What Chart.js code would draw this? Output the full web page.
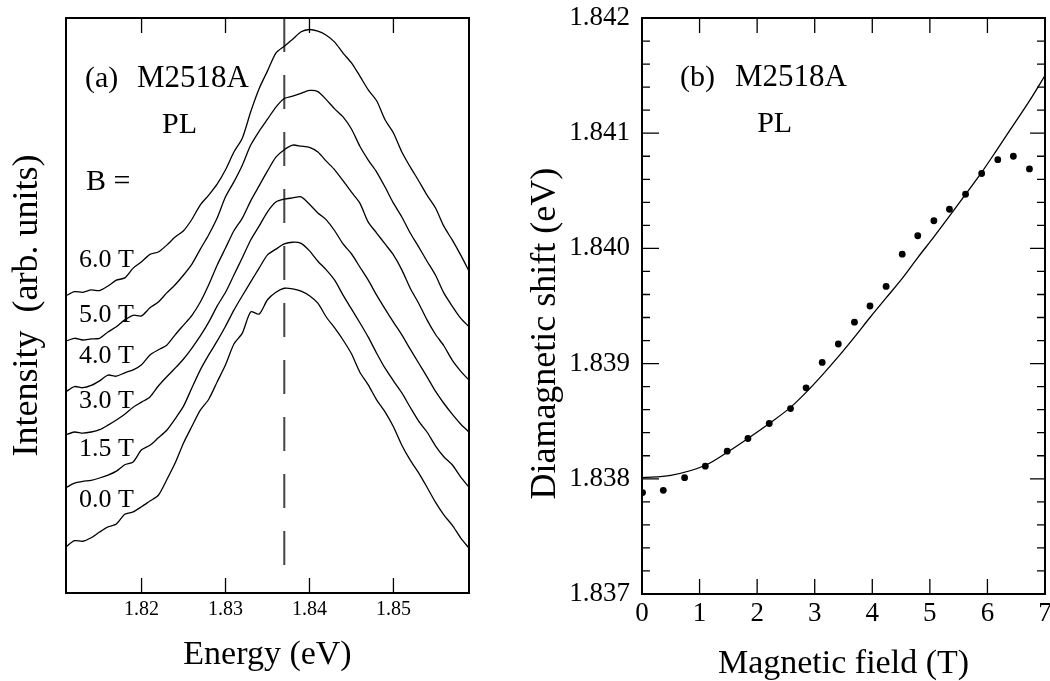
<!DOCTYPE html>
<html>
<head>
    <title>M2518A PL diamagnetic shift</title>
    <script src="https://cdn.jsdelivr.net/npm/chart.js"></script>
    <style>
        body { margin: 0; background: #fff; }
        .panel { position: absolute; top: 0; }
        #spectra { left: 0; }
        #shift { left: 525px; }
    </style>
</head>
<body>
    <canvas id="spectra" class="panel" width="525" height="681"></canvas>
    <canvas id="shift" class="panel" width="525" height="681"></canvas>
    <script>
        const SERIF = "'Liberation Serif', 'Times New Roman', serif";

        // (a) PL spectra on a 1 meV grid, intensity in arb. units (offset per field)
        const energy = [1.811, 1.812, 1.813, 1.814, 1.815, 1.816, 1.817, 1.818, 1.819, 1.820,
                        1.821, 1.822, 1.823, 1.824, 1.825, 1.826, 1.827, 1.828, 1.829, 1.830,
                        1.831, 1.832, 1.833, 1.834, 1.835, 1.836, 1.837, 1.838, 1.839, 1.840,
                        1.841, 1.842, 1.843, 1.844, 1.845, 1.846, 1.847, 1.848, 1.849, 1.850,
                        1.851, 1.852, 1.853, 1.854, 1.855, 1.856, 1.857, 1.858, 1.859];
        const fieldLabels = ['0.0 T', '1.5 T', '3.0 T', '4.0 T', '5.0 T', '6.0 T'];
        const pl00 = [8.0, 9.1, 9.0, 9.6, 10.6, 11.5, 12.0, 13.7, 14.1, 15.0,
                      16.0, 17.0, 19.7, 22.6, 26.1, 29.0, 31.8, 33.7, 36.7, 39.7,
                      43.3, 45.2, 48.9, 48.5, 51.0, 52.3, 53.0, 52.9, 52.5, 51.7,
                      50.4, 48.0, 46.1, 44.0, 41.6, 38.4, 36.2, 33.6, 31.5, 28.9,
                      25.7, 23.1, 20.9, 18.4, 15.8, 13.6, 11.8, 9.6, 7.8];
        const pl15 = [18.3, 19.1, 19.4, 19.6, 20.0, 20.5, 21.2, 22.3, 22.8, 24.9,
                      25.7, 27.0, 28.3, 30.3, 32.5, 35.7, 38.8, 41.4, 43.8, 46.4,
                      49.2, 51.7, 54.1, 56.5, 58.8, 59.8, 60.7, 61.0, 60.8, 59.5,
                      57.7, 56.2, 54.4, 51.8, 49.4, 47.0, 44.5, 41.7, 39.1, 36.9,
                      34.8, 32.3, 29.9, 28.0, 25.6, 23.7, 22.3, 20.2, 18.4];
        const pl30 = [27.5, 28.0, 27.8, 28.0, 28.4, 29.2, 30.1, 31.1, 32.3, 33.2,
                      34.1, 36.0, 37.6, 39.1, 40.7, 42.6, 44.7, 47.1, 49.9, 52.3,
                      55.3, 58.3, 61.4, 63.8, 66.3, 68.0, 68.5, 68.7, 68.9, 67.6,
                      66.1, 64.9, 63.0, 60.7, 59.0, 56.7, 54.4, 51.8, 49.4, 47.1,
                      44.9, 42.4, 40.0, 37.6, 35.1, 33.0, 31.1, 29.4, 28.0];
        const pl40 = [35.0, 35.9, 35.7, 36.1, 36.9, 37.9, 37.7, 38.3, 38.8, 39.7,
                      41.4, 42.3, 43.1, 44.9, 46.6, 48.3, 50.6, 53.6, 57.0, 60.0,
                      63.0, 65.2, 68.2, 70.8, 73.4, 75.8, 77.1, 77.9, 77.7, 77.5,
                      76.7, 75.1, 73.6, 71.7, 69.7, 67.8, 64.5, 62.6, 60.7, 58.8,
                      56.2, 53.0, 50.4, 47.5, 45.0, 43.0, 40.5, 38.6, 37.0];
        const pl50 = [43.8, 44.3, 44.0, 44.2, 44.3, 45.4, 46.3, 47.5, 48.3, 48.2,
                      49.6, 50.6, 52.2, 53.6, 55.3, 57.2, 59.8, 62.3, 65.2, 68.9,
                      71.5, 74.4, 77.9, 80.3, 82.4, 84.5, 86.0, 86.4, 86.9, 87.4,
                      87.2, 85.8, 84.2, 82.8, 80.7, 77.7, 75.3, 73.2, 70.6, 67.8,
                      65.4, 62.6, 60.2, 57.7, 55.3, 52.2, 49.9, 47.8, 46.3];
        const pl60 = [51.7, 52.4, 52.3, 52.7, 52.6, 53.4, 54.4, 54.8, 56.5, 57.6,
                      58.9, 59.3, 60.5, 61.9, 63.0, 65.0, 67.5, 69.2, 71.1, 73.6,
                      76.7, 79.1, 83.7, 87.7, 90.8, 93.9, 95.1, 96.3, 97.6, 98.0,
                      97.7, 97.0, 95.8, 93.9, 92.2, 89.9, 87.5, 85.6, 82.3, 80.0,
                      76.7, 74.1, 71.7, 69.2, 67.0, 63.8, 61.4, 58.8, 56.0];
        const energyTicks = [1.82, 1.83, 1.84, 1.85];
        const zeroFieldPeak = 1.837;

        // (b) peak energy vs field, measured and fitted
        const fieldB = [0.01, 0.37, 0.74, 1.10, 1.48, 1.84, 2.21, 2.58, 2.85, 3.13, 3.41, 3.69,
                        3.96, 4.24, 4.52, 4.79, 5.07, 5.34, 5.62, 5.90, 6.18, 6.45, 6.73];
        const shiftMeasured = [1.83788, 1.83790, 1.83801, 1.83811, 1.83824, 1.83835, 1.83848, 1.83861,
                               1.83879, 1.83901, 1.83917, 1.83936, 1.83950, 1.83967, 1.83995, 1.84011,
                               1.84024, 1.84034, 1.84047, 1.84065, 1.84077, 1.84080, 1.84069];
        const fitB = [0, 0.50, 1.11, 1.48, 1.84, 2.21, 2.58, 2.85, 3.13, 3.41, 3.69, 3.96,
                      4.24, 4.52, 4.79, 5.07, 5.34, 5.62, 5.90, 6.17, 6.45, 6.73, 7.00];
        const shiftFit = [1.83801, 1.83803, 1.83812, 1.83823, 1.83835, 1.83848, 1.83862, 1.83875,
                          1.83890, 1.83906, 1.83923, 1.83940, 1.83957, 1.83974, 1.83992, 1.84010,
                          1.84028, 1.84047, 1.84066, 1.84086, 1.84107, 1.84128, 1.84150];
        const fieldTicks = [0, 1, 2, 3, 4, 5, 6, 7];
        const shiftTicks = [1.837, 1.838, 1.839, 1.840, 1.841, 1.842];

        Chart.defaults.font.family = SERIF;
        Chart.defaults.color = '#000';

        // box around the plot, inward tick marks and free text, all placed through the scales
        function framePlugin(cfg) {
            return {
                id: 'frame',
                afterDatasetsDraw(chart) {
                    const {ctx, chartArea: a, scales} = chart;
                    ctx.save();
                    ctx.strokeStyle = '#000';
                    ctx.lineWidth = 1.3;
                    ctx.beginPath();
                    (cfg.xTicks || []).forEach(v => {
                        const px = scales.x.getPixelForValue(v);
                        ctx.moveTo(px, a.top); ctx.lineTo(px, a.top + 15);
                        ctx.moveTo(px, a.bottom); ctx.lineTo(px, a.bottom - 15);
                    });
                    (cfg.yTicks || []).forEach(v => {
                        const py = scales.y.getPixelForValue(v);
                        ctx.moveTo(a.left, py); ctx.lineTo(a.left + 17, py);
                        ctx.moveTo(a.right, py); ctx.lineTo(a.right - 15, py);
                    });
                    if (cfg.yMinorStep) {
                        const ys = scales.y;
                        for (let v = ys.min; v < ys.max; v += cfg.yMinorStep) {
                            const py = ys.getPixelForValue(v);
                            ctx.moveTo(a.left, py); ctx.lineTo(a.left + 8, py);
                            ctx.moveTo(a.right, py); ctx.lineTo(a.right - 8, py);
                        }
                    }
                    ctx.stroke();
                    ctx.lineWidth = 2;
                    ctx.strokeRect(a.left, a.top, a.right - a.left, a.bottom - a.top);

                    ctx.fillStyle = '#000';
                    ctx.textBaseline = 'alphabetic';
                    (cfg.notes || []).forEach(n => {
                        ctx.font = n.size + 'px ' + SERIF;
                        const px = scales.x.getPixelForValue(n.x);
                        const py = scales.y.getPixelForValue(n.y);
                        if (n.vertical) {
                            ctx.save();
                            ctx.translate(px, py);
                            ctx.rotate(-Math.PI / 2);
                            ctx.textAlign = 'center';
                            ctx.textBaseline = 'middle';
                            ctx.fillText(n.text, 0, 0);
                            ctx.restore();
                        } else {
                            ctx.textAlign = 'left';
                            ctx.fillText(n.text, px, py);
                        }
                    });
                    ctx.restore();
                }
            };
        }

        const labelY = [15.0, 23.8, 32.2, 40.0, 47.1, 56.7];
        const spectraNotes = [
            {text: '(a)', x: 1.81326, y: 88.0, size: 30},
            {text: 'M2518A', x: 1.81946, y: 88.0, size: 31},
            {text: 'PL', x: 1.82243, y: 80.0, size: 30},
            {text: 'B =', x: 1.81338, y: 70.1, size: 30}
        ].concat(fieldLabels.map((t, i) => ({text: t, x: 1.81255, y: labelY[i], size: 26})));

        const spectra = [pl00, pl15, pl30, pl40, pl50, pl60];

        new Chart(document.getElementById('spectra'), {
            type: 'scatter',
            data: {
                datasets: spectra.map((vals, i) => ({
                    label: fieldLabels[i],
                    data: energy.map((e, j) => ({x: e, y: vals[j]})),
                    showLine: true,
                    borderColor: '#000',
                    borderWidth: 1.3,
                    pointRadius: 0,
                    tension: 0.25
                })).concat([{
                    label: 'zero-field peak',
                    data: [{x: zeroFieldPeak, y: 100}, {x: zeroFieldPeak, y: 4}],
                    showLine: true,
                    borderColor: '#444',
                    borderWidth: 2,
                    borderDash: [34, 23],
                    pointRadius: 0
                }])
            },
            options: {
                responsive: false,
                animation: false,
                devicePixelRatio: 1,
                layout: {padding: {top: 18, right: 56, bottom: 0, left: 0}},
                plugins: {legend: {display: false}, tooltip: {enabled: false}},
                scales: {
                    x: {
                        type: 'linear', min: 1.811, max: 1.859,
                        afterBuildTicks: s => { s.ticks = energyTicks.map(v => ({value: v})); },
                        afterFit: s => { s.height = 88; s.paddingLeft = 0; s.paddingRight = 0; },
                        grid: {display: false, drawTicks: false},
                        border: {display: false},
                        ticks: {padding: 4.5, font: {size: 20}, maxRotation: 0, callback: v => v.toFixed(2)},
                        title: {display: true, text: 'Energy (eV)', font: {size: 34}, padding: {top: 0, bottom: 5.6}}
                    },
                    y: {
                        min: 0, max: 100,
                        afterFit: s => { s.width = 66; s.paddingTop = 0; s.paddingBottom = 0; },
                        grid: {display: false, drawTicks: false},
                        border: {display: false},
                        ticks: {display: false},
                        title: {display: true, text: 'Intensity  (arb. units)', font: {size: 36}, padding: {top: 6.4, bottom: 0}}
                    }
                }
            },
            plugins: [framePlugin({xTicks: energyTicks, notes: spectraNotes})]
        });

        const shiftNotes = [
            {text: '(b)', x: 0.66, y: 1.84141, size: 30},
            {text: 'M2518A', x: 1.615, y: 1.84141, size: 31},
            {text: 'PL', x: 2.0, y: 1.84101, size: 30},
            {text: 'Diamagnetic shift (eV)', x: -1.67, y: 1.83926, size: 36, vertical: true}
        ];

        new Chart(document.getElementById('shift'), {
            type: 'scatter',
            data: {
                datasets: [{
                    label: 'measured',
                    data: fieldB.map((b, i) => ({x: b, y: shiftMeasured[i]})),
                    pointRadius: 3.4,
                    pointBackgroundColor: '#000',
                    pointBorderWidth: 0
                }, {
                    label: 'fit',
                    data: fitB.map((b, i) => ({x: b, y: shiftFit[i]})),
                    showLine: true,
                    borderColor: '#000',
                    borderWidth: 1.3,
                    pointRadius: 0,
                    cubicInterpolationMode: 'monotone'
                }]
            },
            options: {
                responsive: false,
                animation: false,
                devicePixelRatio: 1,
                layout: {padding: {top: 18, right: 5, bottom: 0, left: 0}},
                plugins: {legend: {display: false}, tooltip: {enabled: false}},
                scales: {
                    x: {
                        type: 'linear', min: 0, max: 7,
                        afterBuildTicks: s => { s.ticks = fieldTicks.map(v => ({value: v})); },
                        afterFit: s => { s.height = 87; s.paddingLeft = 0; s.paddingRight = 0; },
                        grid: {display: false, drawTicks: false},
                        border: {display: false},
                        ticks: {padding: 3.3, font: {size: 27}, maxRotation: 0, autoSkip: false},
                        title: {display: true, text: 'Magnetic field (T)', font: {size: 34}, padding: {top: 0, bottom: -3}}
                    },
                    y: {
                        min: 1.837, max: 1.842,
                        afterBuildTicks: s => { s.ticks = shiftTicks.map(v => ({value: v})); },
                        afterFit: s => { s.width = 117; s.paddingTop = 0; s.paddingBottom = 0; },
                        grid: {display: false, drawTicks: false},
                        border: {display: false},
                        ticks: {padding: 12, font: {size: 27}, callback: v => v.toFixed(3)}
                    }
                }
            },
            plugins: [framePlugin({xTicks: fieldTicks, yTicks: shiftTicks, yMinorStep: 0.0002, notes: shiftNotes})]
        });
    </script>
</body>
</html>
